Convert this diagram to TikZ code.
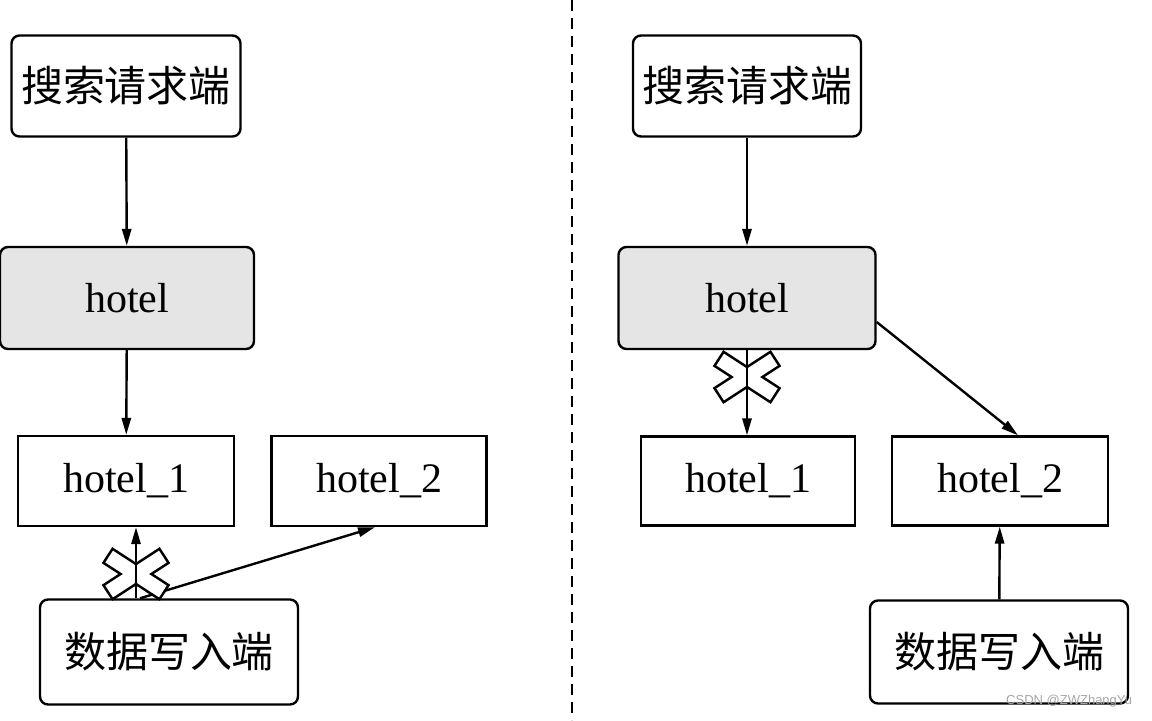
\documentclass[tikz,border=0pt]{standalone}
\usepackage{fontspec}
\setmainfont{Liberation Serif}
\newfontfamily\cjk{Noto Sans CJK SC}
\newfontfamily\wmfont{Liberation Sans}
\usepackage{tikz}
\usetikzlibrary{arrows.meta}

\begin{document}
\begin{tikzpicture}[x=0.5pt,y=-0.5pt,line width=1.2pt,
  box/.style n args={2}{draw,rectangle,inner sep=0pt,minimum width=#1*0.5pt,minimum height=#2*0.5pt,font=\fontsize{21}{25}\selectfont},
  rbox/.style={rounded corners=4pt},
  hot/.style={fill=gray!20},
  arr/.style={-{Triangle[length=8.5pt,width=4.6pt]}},
  nocross/.pic={
    \foreach \a in {33,-33} {\draw[line width=2.6pt,rotate=\a] (-32,-7) rectangle (32,7);}
    \foreach \a in {33,-33} {\fill[white,rotate=\a] (-32,-7) rectangle (32,7);}
  }]
\useasboundingbox (0,0) rectangle (1152,720);
\draw[line width=1pt,dash pattern=on 5.5pt off 3.5pt] (572,0) -- (572,720);
% left side
\node[box={229}{101},rbox] (lreq) at (126,86) {\cjk 搜索请求端};
\node[box={254}{102},rbox,hot] (lhotel) at (127,298) {hotel};
\node[box={216}{90}] (lh1) at (126,481) {hotel\_1};
\node[box={215}{90}] (lh2) at (379,481) {hotel\_2};
\node[box={258}{105},rbox] (lwrite) at (169,652) {\cjk 数据写入端};
\coordinate (lx) at (136,574);
\draw[arr] (lreq) -- (lhotel);
\draw[arr] (lhotel) -- (lh1);
\draw[arr] ([xshift=2pt]lwrite.north -| lx) -- ([xshift=-2pt]lh2.south);
\pic at (lx) {nocross};
\draw[arr] (lwrite.north -| lx) -- (lh1.south -| lx);
% right side
\node[box={228}{101},rbox] (rreq) at (747,86) {\cjk 搜索请求端};
\node[box={257}{102},rbox,hot] (rhotel) at (747,298) {hotel};
\node[box={214}{89}] (rh1) at (748,481) {hotel\_1};
\node[box={216}{89}] (rh2) at (1000,481) {hotel\_2};
\node[box={258}{103},rbox] (rwrite) at (999,652) {\cjk 数据写入端};
\coordinate (rx) at (747,377);
\draw[arr] (rreq) -- (rhotel);
\pic at (rx) {nocross};
\draw[arr] (rhotel.south -| rx) -- (rh1.north -| rx);
\draw[arr] ([yshift=-12pt]rhotel.east) -- ([xshift=9pt]rh2.north);
\draw[arr] (rwrite) -- (rh2);
\node[text=gray!70,font=\wmfont\fontsize{6.5}{7}\selectfont,anchor=east] (wm) at (1140,701) {CSDN @ZWZhangYu};
\end{tikzpicture}
\end{document}
